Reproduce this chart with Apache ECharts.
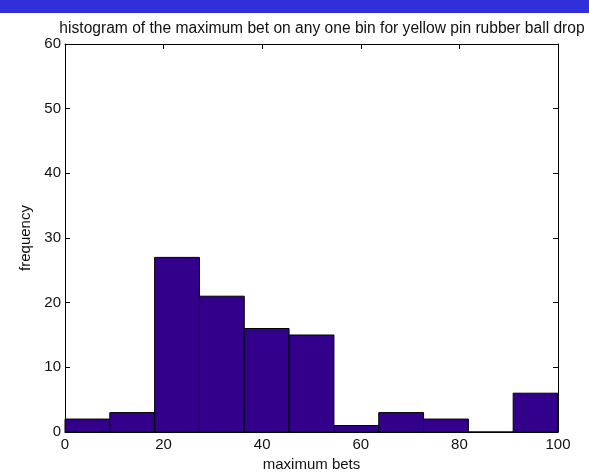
<!DOCTYPE html>
<html>
<head>
<meta charset="utf-8">
<script src="https://cdn.jsdelivr.net/npm/echarts@6/dist/echarts.min.js"></script>
<style>
  html, body { margin: 0; padding: 0; background: #fff; }
  #bar { height: 13px; background: #3030d8; }
  #chart { width: 589px; height: 459px; }
</style>
</head>
<body>
<div id="bar"></div>
<div id="chart"></div>
<script>
// bin edges (11 bins from 0 to 100) and counts
const binStarts = [0, 9.09, 18.18, 27.27, 36.36, 45.45, 54.55, 63.64, 72.73, 81.82, 90.91];
const binEnds = [9.09, 18.18, 27.27, 36.36, 45.45, 54.55, 63.64, 72.73, 81.82, 90.91, 100];
const counts = [2, 3, 27, 21, 16, 15, 1, 3, 2, 0, 6];

const data = counts.map((c, i) => [binStarts[i], binEnds[i], c]);

const chart = echarts.init(document.getElementById('chart'));

const font = 'Liberation Sans, Arial, sans-serif';
const axisCommon = {
  type: 'value',
  min: 0,
  axisLine: { show: true, onZero: false, lineStyle: { color: '#000', width: 1 } },
  axisTick: { show: true, inside: true, length: 5, lineStyle: { color: '#000' } },
  splitLine: { show: false }
};

chart.setOption({
  animation: false,
  title: {
    text: 'histogram of the maximum bet on any one bin for yellow pin rubber ball drop',
    left: 317,
    textAlign: 'center',
    top: 3,
    textStyle: { fontFamily: font, fontSize: 15.6, fontWeight: 'normal', color: '#111' }
  },
  grid: { left: 65, right: 31, top: 31, bottom: 40, outerBoundsMode: 'none' },
  xAxis: [
    Object.assign({}, axisCommon, {
      max: 100, interval: 20,
      name: 'maximum bets', nameLocation: 'middle', nameGap: 23,
      nameTextStyle: { fontFamily: font, fontSize: 15, color: '#111' },
      axisLabel: { fontFamily: font, fontSize: 15, color: '#111', margin: 5 }
    }),
    Object.assign({}, axisCommon, {
      max: 100, interval: 20, position: 'top',
      axisLabel: { show: false }
    })
  ],
  yAxis: [
    Object.assign({}, axisCommon, {
      max: 60, interval: 10,
      name: 'frequency', nameLocation: 'middle', nameGap: 24,
      nameTextStyle: { fontFamily: font, fontSize: 15, color: '#111' },
      axisLabel: { fontFamily: font, fontSize: 15, color: '#111', margin: 4 }
    }),
    Object.assign({}, axisCommon, {
      max: 60, interval: 10, position: 'right',
      axisLabel: { show: false }
    })
  ],
  series: [{
    type: 'custom',
    xAxisIndex: 0,
    yAxisIndex: 0,
    data: data,
    renderItem: function (params, api) {
      const p0 = api.coord([api.value(0), api.value(2)]);
      const p1 = api.coord([api.value(1), 0]);
      return {
        type: 'rect',
        shape: { x: p0[0], y: p0[1], width: p1[0] - p0[0], height: p1[1] - p0[1] },
        style: { fill: '#33008c', stroke: '#000', lineWidth: 1 }
      };
    }
  }]
});
</script>
</body>
</html>
